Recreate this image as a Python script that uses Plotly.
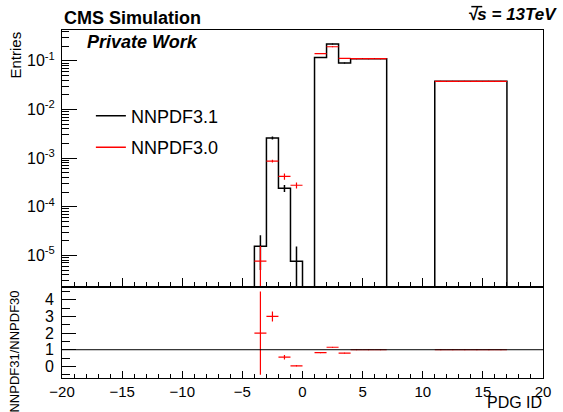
import numpy as np
import plotly.graph_objects as go

# ---- data ----
bin_low = [-4, -3, -2, -1, 1, 2, 3, 4, 5, 6, 11, 12, 13, 14, 15, 16]
nnpdf31 = [1.55e-5, 2.6e-3, 2.4e-4, 7.6e-6, 0.117, 0.222, 0.090, 0.111, 0.111, 0.111,
           0.038, 0.038, 0.038, 0.038, 0.038, 0.038]
nnpdf31_err = [1.05e-5, 1.8e-4, 4.0e-5, 7.55e-6, 0.001, 0.0015, 0.001, 0.001, 0.001, 0.001,
               0.0005, 0.0005, 0.0005, 0.0005, 0.0005, 0.0005]
nnpdf30 = [7.6e-6, 8.7e-4, 4.2e-4, 2.77e-4, 0.141, 0.195, 0.112, 0.111, 0.111, 0.111,
           0.038, 0.038, 0.038, 0.038, 0.038, 0.038]
nnpdf30_err = [8.0e-6, 6.0e-5, 6.0e-5, 4.0e-5, 0.001, 0.0015, 0.001, 0.001, 0.001, 0.001,
               0.0005, 0.0005, 0.0005, 0.0005, 0.0005, 0.0005]
ratio = [2.0, 3.0, 0.55, 0.03, 0.82, 1.15, 0.80, 1.0, 1.0, 1.0, 1.0, 1.0, 1.0, 1.0, 1.0, 1.0]
ratio_err = [2.5, 0.3, 0.14, 0.03, 0.01, 0.01, 0.01, 0.01, 0.01, 0.01,
             0.01, 0.01, 0.01, 0.01, 0.01, 0.01]

log_tick_vals = [1e-5, 1e-4, 1e-3, 1e-2, 1e-1]
log_tick_text = ["10<sup>-5</sup>", "10<sup>-4</sup>", "10<sup>-3</sup>",
                 "10<sup>-2</sup>", "10<sup>-1</sup>"]

x_min, x_max = -20, 20
bin_width = 1.0

# ---- build full histogram for the step line ----
edges = np.arange(x_min, x_max + 1, bin_width)
full = np.full(len(edges) - 1, 1e-12)
for lo, v in zip(bin_low, nnpdf31):
    full[int(lo - x_min)] = v
step_y = np.append(full, full[-1])
centers = [lo + bin_width / 2 for lo in bin_low]
half = [bin_width / 2] * len(centers)

FONT = "Liberation Sans, Arial, Helvetica, sans-serif"
fig = go.Figure()

fig.add_trace(go.Scatter(
    x=edges, y=step_y, mode="lines", line=dict(shape="hv", color="black", width=1.5),
    name="NNPDF3.1", legendgroup="a", xaxis="x", yaxis="y"))
fig.add_trace(go.Scatter(
    x=centers, y=nnpdf31, mode="markers", marker=dict(size=1, color="black"),
    error_y=dict(type="data", array=nnpdf31_err, color="black", thickness=1.5, width=0),
    showlegend=False, xaxis="x", yaxis="y"))
fig.add_trace(go.Scatter(
    x=centers, y=nnpdf30, mode="markers", marker=dict(size=1, color="red"),
    error_y=dict(type="data", array=nnpdf30_err, color="red", thickness=1.2, width=0),
    error_x=dict(type="data", array=half, color="red", thickness=1.2, width=0),
    showlegend=False, xaxis="x", yaxis="y"))
fig.add_trace(go.Scatter(
    x=[None], y=[None], mode="lines", line=dict(color="red", width=1.5),
    name="NNPDF3.0", legendgroup="b", xaxis="x", yaxis="y"))

fig.add_trace(go.Scatter(
    x=centers, y=ratio, mode="markers", marker=dict(size=1, color="red"),
    error_y=dict(type="data", array=ratio_err, color="red", thickness=1.2, width=0),
    error_x=dict(type="data", array=half, color="red", thickness=1.2, width=0),
    showlegend=False, xaxis="x2", yaxis="y2"))

split = 92 / 350
axis_common = dict(showline=True, mirror=True, linecolor="black", linewidth=1,
                   showgrid=False, zeroline=False, ticks="inside", tickcolor="black")

fig.update_layout(
    width=563, height=412,
    margin=dict(l=62, r=18, t=30, b=32),
    paper_bgcolor="white", plot_bgcolor="white",
    font=dict(family=FONT, color="black"),
    xaxis=dict(domain=[0, 1], anchor="y", range=[x_min, x_max], showticklabels=False,
               dtick=5, tick0=0, ticklen=9,
               minor=dict(ticks="inside", dtick=1, ticklen=5, tickcolor="black"),
               **axis_common),
    yaxis=dict(domain=[split, 1], anchor="x", type="log", range=[-5.64, -0.366],
               tickvals=log_tick_vals, ticktext=log_tick_text, ticklen=15,
               ticklabelstandoff=3, tickfont=dict(size=16),
               minor=dict(ticks="inside", dtick="D1", ticklen=7, tickcolor="black"),
               **axis_common),
    xaxis2=dict(domain=[0, 1], anchor="y2", range=[x_min, x_max], dtick=5, tick0=0,
                ticklen=7, tickfont=dict(size=15),
                minor=dict(ticks="inside", dtick=1, ticklen=4, tickcolor="black"),
                **axis_common),
    yaxis2=dict(domain=[0, split], anchor="x2", range=[-0.7, 4.8], dtick=1, tick0=0,
                ticklen=14, ticklabelstandoff=4, tickfont=dict(size=16),
                minor=dict(ticks="inside", dtick=0.5, ticklen=8, tickcolor="black"),
                **axis_common),
    legend=dict(x=(91 - 62) / 483, y=1 - (98 - 30) / 350, xanchor="left", yanchor="top",
                font=dict(size=18), bgcolor="rgba(0,0,0,0)", itemwidth=30,
                tracegroupgap=5),
    showlegend=True,
)

fig.add_shape(type="line", xref="x2 domain", yref="y2", x0=0, x1=1, y0=1, y1=1,
              line=dict(color="black", width=1))
# overline of the square root in the energy label
fig.add_shape(type="line", xref="paper", yref="paper",
              x0=(473 - 62) / 483, x1=(484 - 62) / 483, y0=1 + 23.5 / 350, y1=1 + 23.5 / 350,
              line=dict(color="black", width=1.5))

ann = [
    dict(text="<b>CMS Simulation</b>", x=0, y=1, xanchor="left", yanchor="middle",
         yshift=12, font=dict(size=18)),
    dict(text="<b><i>√s = 13TeV</i></b>",
         x=1 + 16.5 / 483, y=1, xanchor="right", yanchor="middle", yshift=16,
         font=dict(size=17)),
    dict(text="<b><i>Private Work</i></b>", x=(85 - 62) / 483, y=1 - 12 / 350,
         xanchor="left", yanchor="middle", font=dict(size=18)),
    dict(text="Entries", x=0, xshift=-47, y=1, xanchor="center", yanchor="top",
         textangle=-90, font=dict(size=15)),
    dict(text="NNPDF31/NNPDF30", x=0, xshift=-47, y=split, yshift=-2, xanchor="center",
         yanchor="top", textangle=-90, font=dict(size=13)),
    dict(text="PDG ID", x=1, y=0, xanchor="right", yanchor="middle", yshift=-24.5,
         borderpad=0, font=dict(size=16)),
]
for a in ann:
    a.update(xref="paper", yref="paper", showarrow=False)
    fig.add_annotation(**a)

fig.write_html("out.html")
